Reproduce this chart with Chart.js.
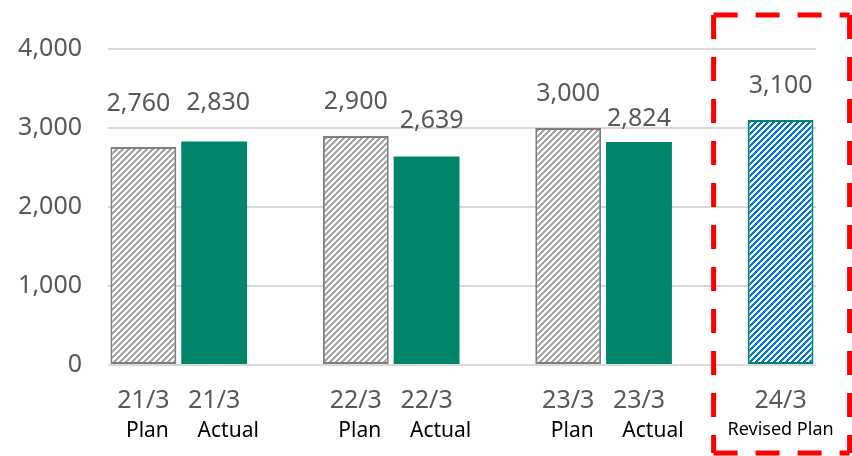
<!DOCTYPE html>
<html>
<head>
<meta charset="utf-8">
<script src="https://cdn.jsdelivr.net/npm/chart.js@4"></script>
<style>
  html, body { margin: 0; padding: 0; background: #fff; }
  #wrap { width: 852px; height: 456px; }
</style>
</head>
<body>
<div id="wrap"><canvas id="myChart"></canvas></div>
<script>
// fiscal years, plan vs actual
const categories = ['21/3', '22/3', '23/3', '24/3'];
const planValues = [2760, 2900, 3000, 3100];
const actualValues = [2830, 2639, 2824, null];
const planNames = ['Plan', 'Plan', 'Plan', 'Revised Plan'];
const actualName = 'Actual';
const yTicks = [0, 1000, 2000, 3000, 4000];

// value label nudges: [dx, lift above bar top]
const planNudge = [[-5, 36], [0, 27], [0, 27], [0, 27]];
const actualNudge = [[4, 31], [5, 29], [0, 16]];

const GRAY = '#595959';
const GREEN = '#00846a';

function hatch(stripe) {
  const n = 6;
  const c = document.createElement('canvas');
  c.width = n; c.height = n;
  const g = c.getContext('2d');
  g.fillStyle = '#fff';
  g.fillRect(0, 0, n, n);
  g.fillStyle = stripe;
  for (let y = 0; y < n; y++) {
    for (let x = 0; x < n; x++) {
      if ((x + y) % n < n / 2) g.fillRect(x, y, 1, 1);
    }
  }
  return g.createPattern(c, 'repeat');
}

// lay out slots: plan, actual, gap for each year
let slotLabels = [], slotValues = [], slotFill = [], slotBorder = [], slotBorderW = [];
let slotInfo = [];
categories.forEach((cat, i) => {
  const last = i === categories.length - 1;
  slotLabels.push(cat);
  slotValues.push(planValues[i]);
  slotFill.push(last ? hatch('#0078d7') : hatch('#a6a6a6'));
  slotBorder.push(last ? GREEN : '#7f7f7f');
  slotBorderW.push(2);
  slotInfo.push({ year: cat, name: planNames[i], nudge: planNudge[i], shift: last ? 0 : 4, small: last });
  if (actualValues[i] !== null) {
    slotLabels.push(cat);
    slotValues.push(actualValues[i]);
    slotFill.push(GREEN);
    slotBorder.push(GREEN);
    slotBorderW.push(0);
    slotInfo.push({ year: cat, name: actualName, nudge: actualNudge[i], shift: 14, small: false });
  }
  if (!last) {
    slotLabels.push('');
    slotValues.push(null);
    slotFill.push('#fff');
    slotBorder.push('#fff');
    slotBorderW.push(0);
    slotInfo.push(null);
  }
});

const labelPlugin = {
  id: 'labels',
  afterDatasetsDraw(chart) {
    const ctx = chart.ctx;
    const meta = chart.getDatasetMeta(0);
    const xs = chart.scales.x;
    const bottom = chart.chartArea.bottom;
    ctx.save();
    ctx.textAlign = 'center';
    ctx.textBaseline = 'alphabetic';
    meta.data.forEach((bar, i) => {
      const info = slotInfo[i];
      if (!info) return;
      const v = slotValues[i];
      const cx = xs.getPixelForValue(i);
      ctx.fillStyle = GRAY;
      ctx.font = '25px "Noto Sans"';
      ctx.fillText(v.toLocaleString('en-US'), cx + info.nudge[0], bar.y - info.nudge[1]);
      ctx.fillText(info.year, cx, bottom + 43);
      ctx.fillStyle = '#000';
      if (info.small) {
        ctx.font = '18px "Noto Sans"';
        ctx.fillText(info.name, cx + info.shift, bottom + 70);
      } else {
        ctx.font = '21px "Noto Sans"';
        ctx.fillText(info.name, cx + info.shift, bottom + 72);
      }
    });

    // dashed frame around the revised plan
    const lastX = xs.getPixelForValue(slotValues.length - 1);
    const l = lastX - 67, r = lastX + 69, t = 15, b = 453;
    ctx.strokeStyle = '#ff0000';
    ctx.lineWidth = 5;
    ctx.setLineDash([24, 18]);
    const edge = (x1, y1, x2, y2) => {
      ctx.beginPath();
      ctx.moveTo(x1, y1);
      ctx.lineTo(x2, y2);
      ctx.stroke();
    };
    edge(l, t, r, t);
    edge(l, t, l, b);
    edge(r, t, r, b);
    edge(l, b, r, b);
    ctx.restore();
  }
};

new Chart('myChart', {
  type: 'bar',
  data: {
    labels: slotLabels,
    datasets: [{
      data: slotValues,
      backgroundColor: slotFill,
      borderColor: slotBorder,
      borderWidth: slotBorderW,
      borderSkipped: false,
      barPercentage: 0.93,
      categoryPercentage: 1.0
    }]
  },
  options: {
    responsive: true,
    maintainAspectRatio: false,
    animation: false,
    layout: { padding: { top: 49, right: 36, left: 0, bottom: 0 } },
    plugins: {
      legend: { display: false },
      tooltip: { enabled: false }
    },
    scales: {
      x: {
        grid: { display: false },
        border: { display: false },
        ticks: { display: false },
        afterFit(scale) { scale.height = 91; }
      },
      y: {
        min: 0,
        max: 4000,
        afterBuildTicks(scale) { scale.ticks = yTicks.map(v => ({ value: v })); },
        afterFit(scale) { scale.width = 108; },
        grid: { color: '#d9d9d9', lineWidth: 2, drawTicks: false },
        border: { display: false },
        ticks: {
          padding: 26,
          color: GRAY,
          font: { family: 'Noto Sans', size: 25 },
          callback: v => v.toLocaleString('en-US')
        }
      }
    }
  },
  plugins: [labelPlugin]
});
</script>
</body>
</html>
